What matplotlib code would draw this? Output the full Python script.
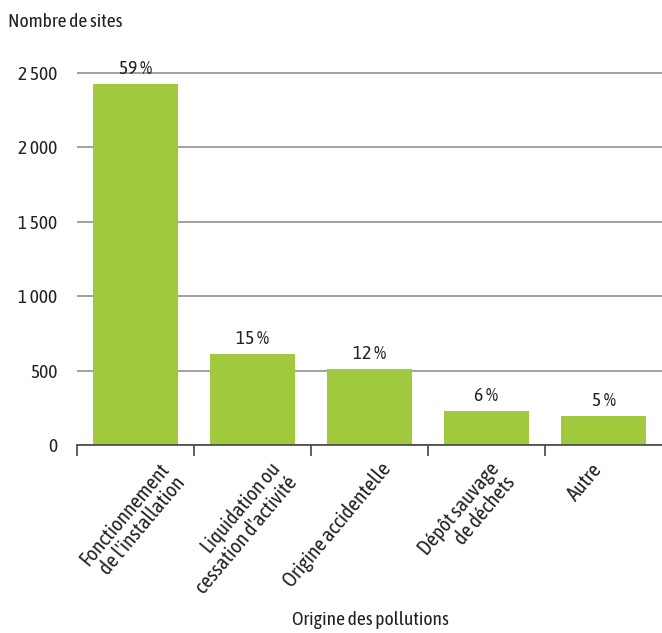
import matplotlib
matplotlib.use("Agg")
import matplotlib.pyplot as plt
from matplotlib.ticker import FixedLocator, FuncFormatter
from matplotlib.transforms import ScaledTranslation

# Data
categories = [
    "Fonctionnement\nde l'installation",
    "Liquidation ou\ncessation d'activité",
    "Origine accidentelle",
    "Dépôt sauvage\nde déchets",
    "Autre",
]
sites = [2425, 610, 510, 228, 197]
shares = ["59 %", "15 %", "12 %", "6 %", "5 %"]
yticks = [0, 500, 1000, 1500, 2000, 2500]

# horizontal nudge of each rotated category label (pixels)
label_dx = [22, 17, 10, 1, -13]

BAR_COLOR = "#A0C93D"
GRID_COLOR = "#9a9a9a"
TEXT_COLOR = "#222222"
FS = 14
DPI = 100

plt.rcParams["font.family"] = ["Asap Condensed", "Roboto", "DejaVu Sans"]
plt.rcParams["font.size"] = FS

fig = plt.figure(figsize=(6.62, 6.33), dpi=DPI)
ax = fig.add_axes([77 / 662, 1 - 445 / 633, 1 - 77 / 662, (445 - 70) / 633])

x = list(range(len(categories)))
ax.bar(x, sites, width=0.72, color=BAR_COLOR, zorder=3)

for xi, v, s in zip(x, sites, shares):
    ax.text(xi, v + 40, s, ha="center", va="bottom", color=TEXT_COLOR, fontsize=FS)

ax.set_xlim(-0.5, len(categories) - 0.5)
ax.set_ylim(0, 2520)

ax.yaxis.set_major_locator(FixedLocator(yticks))
ax.yaxis.set_major_formatter(FuncFormatter(lambda v, p: f"{int(v):,}".replace(",", " ")))
ax.yaxis.grid(True, color=GRID_COLOR, linewidth=1.3, zorder=0)
ax.tick_params(axis="y", length=0, pad=14, labelsize=FS, labelcolor=TEXT_COLOR)

# tick marks at category boundaries, rotated labels drawn as texts
ax.set_xticks(x)
ax.set_xticklabels([])
ax.tick_params(axis="x", which="major", length=0)
ax.set_xticks([i - 0.5 for i in range(len(categories))], minor=True)
ax.tick_params(axis="x", which="minor", length=8, width=1.2, color="#444444")

for xi, lab, dx in zip(x, categories, label_dx):
    off = ScaledTranslation(dx / DPI, -14 / DPI, fig.dpi_scale_trans)
    ax.text(xi, 0, lab, rotation=50, ha="right", va="top", rotation_mode="anchor",
            multialignment="right", linespacing=1.1, fontsize=15, color=TEXT_COLOR,
            transform=ax.get_xaxis_transform() + off)

for side in ["top", "right", "left"]:
    ax.spines[side].set_visible(False)
ax.spines["bottom"].set_color("#444444")
ax.spines["bottom"].set_linewidth(1.2)
ax.spines["bottom"].set_zorder(4)

fig.text(8 / 662, 1 - 22 / 633, "Nombre de sites", ha="left", va="center",
         fontsize=FS, color=TEXT_COLOR)
fig.text(370 / 662, 1 - 620 / 633, "Origine des pollutions", ha="center", va="center",
         fontsize=FS, color=TEXT_COLOR)

fig.savefig("out.png", dpi=DPI)
